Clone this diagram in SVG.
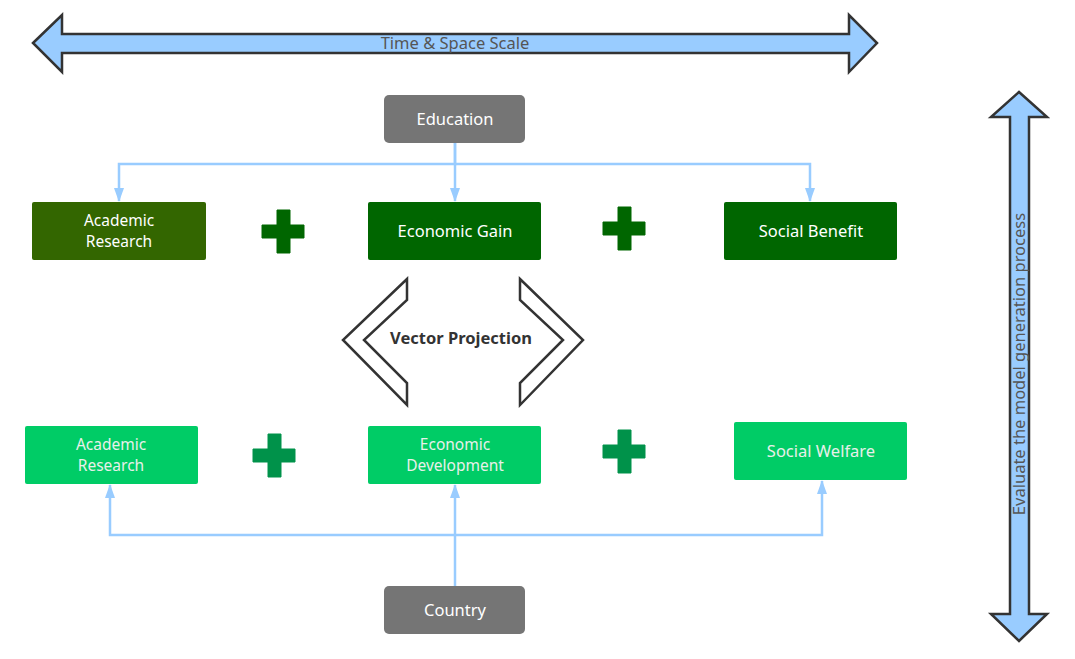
<svg xmlns="http://www.w3.org/2000/svg" width="1075" height="659" viewBox="0 0 1075 659">
<style>
.big{fill:#99CCFF;stroke:#333333;stroke-width:2.5;stroke-linejoin:miter}
.lbl{font-family:"Noto Sans","Open Sans",sans-serif;font-size:16.5px;fill:#555555;text-anchor:middle}
.gray rect{fill:#757575}
.t{font-family:"Noto Sans","Open Sans",sans-serif;font-size:16.5px;text-anchor:middle;fill:#FFFFFF}
.tl{font-family:"Noto Sans","Open Sans",sans-serif;font-size:16.5px;text-anchor:middle;fill:#E8F0EA}
.two{font-size:15.5px}
.dark rect{fill:#006600}
.olive rect{fill:#336600}
.light rect{fill:#00CC66}
.plus1{fill:#006600}
.plus2{fill:#00924A}
.chev{fill:#FFFFFF;stroke:#333333;stroke-width:2.5}
.conn{fill:none;stroke:#99CCFF;stroke-width:2.5}
</style>
<defs>
<marker id="ah" viewBox="0 0 14 10" refX="13" refY="5" markerWidth="14" markerHeight="10" orient="auto" markerUnits="userSpaceOnUse">
<path d="M0,0 L14,5 L0,10 z" fill="#99CCFF"/>
</marker>
</defs>

<g id="time-space-arrow">
<polygon class="big" points="33,43 62,15 62,34 849,34 849,15 877,43 849,72 849,53 62,53 62,72"/>
<text class="lbl" x="455" y="49">Time &amp; Space Scale</text>
</g>

<g id="evaluate-arrow">
<polygon class="big" points="1019,92 1047,117 1029,117 1029,614 1047,614 1019,641 991,614 1010,614 1010,117 991,117"/>
<text class="lbl" transform="translate(1025,364) rotate(-90)">Evaluate the model generation process</text>
</g>

<g id="connectors">
<path class="conn" d="M455,143 V164 H119 V201" marker-end="url(#ah)"/>
<path class="conn" d="M455,143 V201" marker-end="url(#ah)"/>
<path class="conn" d="M455,164 H810 V201" marker-end="url(#ah)"/>
<path class="conn" d="M455,586 V485" marker-end="url(#ah)"/>
<path class="conn" d="M455,535 H110 V485" marker-end="url(#ah)"/>
<path class="conn" d="M455,535 H822 V481" marker-end="url(#ah)"/>
</g>

<g id="education" class="gray">
<rect x="384" y="95" width="141" height="48" rx="5"/>
<text class="t" x="455" y="125">Education</text>
</g>

<g id="academic-research-top" class="olive">
<rect x="32" y="202" width="174" height="58" rx="2"/>
<text class="t two" x="119" y="226">Academic</text>
<text class="t two" x="119" y="247">Research</text>
</g>

<g id="plus-top-1">
<path class="plus1" d="M277,210 h13 v15 h14 v13 h-14 v15 h-13 v-15 h-15 v-13 h15 z" stroke="#006600" stroke-width="1" stroke-linejoin="round"/>
</g>

<g id="economic-gain" class="dark">
<rect x="368" y="202" width="173" height="58" rx="2"/>
<text class="t" x="455" y="237">Economic Gain</text>
</g>

<g id="plus-top-2">
<path class="plus1" d="M618,207 h13 v15 h14 v13 h-14 v15 h-13 v-15 h-15 v-13 h15 z" stroke="#006600" stroke-width="1" stroke-linejoin="round"/>
</g>

<g id="social-benefit" class="dark">
<rect x="724" y="202" width="173" height="58" rx="2"/>
<text class="t" x="811" y="237">Social Benefit</text>
</g>

<g id="vector-projection">
<polygon class="chev" points="407,279 343,340 407,405 407,383 364,340 407,300"/>
<polygon class="chev" points="520,279 583,340 520,405 520,383 563,340 520,300"/>
<text x="461" y="344" font-family="Noto Sans,Open Sans,sans-serif" font-size="16.5" font-weight="bold" fill="#333333" text-anchor="middle">Vector Projection</text>
</g>

<g id="academic-research-bottom" class="light">
<rect x="25" y="426" width="173" height="58" rx="2"/>
<text class="tl two" x="111" y="450">Academic</text>
<text class="tl two" x="111" y="471">Research</text>
</g>

<g id="plus-bottom-1">
<path class="plus2" d="M268,434 h13 v15 h14 v13 h-14 v15 h-13 v-15 h-15 v-13 h15 z" stroke="#00924A" stroke-width="1" stroke-linejoin="round"/>
</g>

<g id="economic-development" class="light">
<rect x="368" y="426" width="173" height="58" rx="2"/>
<text class="tl two" x="455" y="450">Economic</text>
<text class="tl two" x="455" y="471">Development</text>
</g>

<g id="plus-bottom-2">
<path class="plus2" d="M618,430 h13 v15 h14 v13 h-14 v15 h-13 v-15 h-15 v-13 h15 z" stroke="#00924A" stroke-width="1" stroke-linejoin="round"/>
</g>

<g id="social-welfare" class="light">
<rect x="734" y="422" width="173" height="58" rx="2"/>
<text class="tl" x="821" y="457">Social Welfare</text>
</g>

<g id="country" class="gray">
<rect x="384" y="586" width="141" height="48" rx="5"/>
<text class="t" x="455" y="616">Country</text>
</g>
</svg>
